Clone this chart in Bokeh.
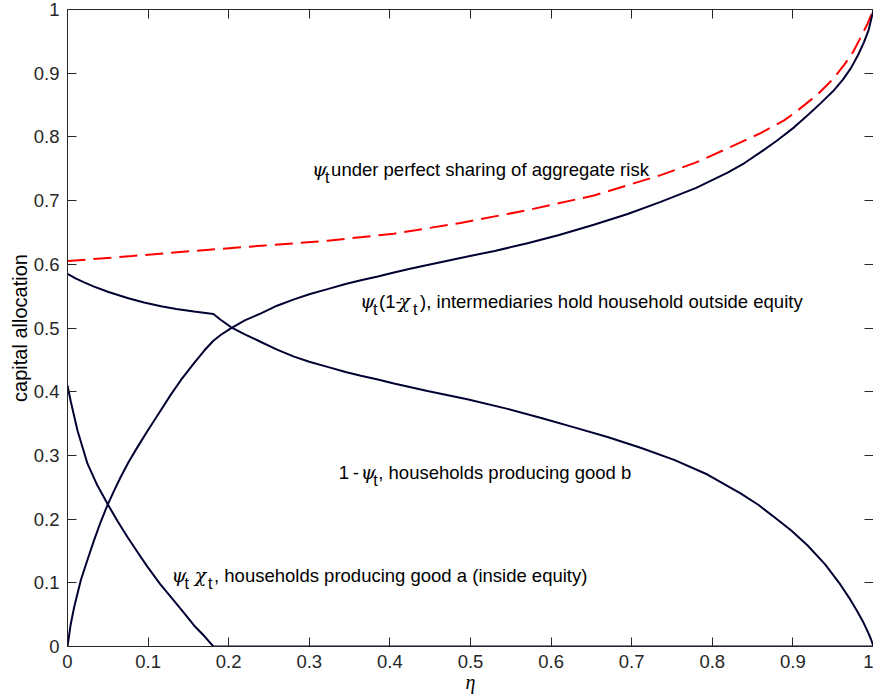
from bokeh.plotting import figure
from bokeh.models import FixedTicker, LinearAxis, Range1d, Label, CustomJSTickFormatter
from bokeh.embed import file_html
from bokeh.resources import INLINE

# ---------------- data ----------------
# psi_t (1 - chi_t): intermediaries hold household outside equity
eta_outside = [0.0, 0.004, 0.0083, 0.0165, 0.025, 0.033, 0.041, 0.0496, 0.058, 0.066, 0.076,
               0.0868, 0.10, 0.1158, 0.128, 0.1406, 0.157, 0.17, 0.181,
               0.19, 0.2026, 0.22, 0.24, 0.26, 0.281, 0.30, 0.3226, 0.345, 0.364, 0.385, 0.405,
               0.425, 0.4467, 0.4876, 0.53, 0.5707, 0.61, 0.653, 0.695, 0.736, 0.78, 0.819,
               0.840, 0.860, 0.88, 0.9015, 0.92, 0.9346, 0.95, 0.962, 0.972, 0.981, 0.988,
               0.994, 1.0]
psi_outside = [0.0, 0.035, 0.062, 0.104, 0.137, 0.167, 0.195, 0.222, 0.245, 0.266, 0.290,
               0.313, 0.340, 0.371, 0.395, 0.418, 0.445, 0.465, 0.480,
               0.489, 0.4995, 0.512, 0.523, 0.535, 0.545, 0.553, 0.561, 0.569, 0.575, 0.581, 0.587,
               0.593, 0.599, 0.610, 0.621, 0.633, 0.646, 0.662, 0.679, 0.698, 0.720, 0.744,
               0.759, 0.776, 0.794, 0.815, 0.836, 0.853, 0.872, 0.890, 0.908, 0.929, 0.948,
               0.968, 1.0]

# 1 - psi_t: households producing good b
eta_goodb = [0.0, 0.01, 0.02, 0.033, 0.05, 0.0744, 0.095, 0.116, 0.135, 0.157, 0.181,
             0.19, 0.2026, 0.22, 0.24, 0.26, 0.281, 0.30, 0.3226, 0.345, 0.364, 0.385, 0.405,
             0.4467, 0.496, 0.546, 0.59, 0.6286, 0.67, 0.711, 0.7527, 0.794, 0.835, 0.857,
             0.8767, 0.898, 0.918, 0.94, 0.959, 0.970, 0.980, 0.987, 0.9926, 0.997, 1.0]
one_minus_psi = [0.585, 0.578, 0.572, 0.565, 0.557, 0.547, 0.540, 0.534, 0.530, 0.526, 0.522,
                 0.513, 0.5015, 0.490, 0.478, 0.466, 0.455, 0.447, 0.439, 0.431, 0.425, 0.419, 0.413,
                 0.401, 0.388, 0.373, 0.358, 0.344, 0.329, 0.312, 0.293, 0.270, 0.2405, 0.2225,
                 0.2034, 0.182, 0.159, 0.129, 0.097, 0.076, 0.055, 0.039, 0.024, 0.011, 0.0]

# psi_t chi_t: households producing good a (inside equity)
eta_inside = [0.0, 0.004, 0.0124, 0.0248, 0.037, 0.0496, 0.062, 0.0744, 0.087, 0.0993, 0.115,
              0.132, 0.145, 0.157, 0.17, 0.181, 1.0]
psi_chi = [0.41, 0.385, 0.339, 0.287, 0.253, 0.224, 0.197, 0.172, 0.148, 0.125, 0.098,
           0.072, 0.052, 0.033, 0.016, 0.0, 0.0]

# psi_t under perfect sharing of aggregate risk
eta_perfect = [0.0, 0.08, 0.157, 0.24, 0.3226, 0.405, 0.4876, 0.5707, 0.653, 0.736, 0.78, 0.819,
               0.860, 0.889, 0.9015, 0.930, 0.95, 0.9636, 0.975, 0.984, 0.992, 1.0]
psi_perfect = [0.605, 0.613, 0.621, 0.629, 0.637, 0.648, 0.665, 0.685, 0.708, 0.740, 0.760, 0.782,
               0.806, 0.826, 0.837, 0.866, 0.891, 0.913, 0.934, 0.956, 0.976, 1.0]

x_ticks = [0.0, 0.1, 0.2, 0.3, 0.4, 0.5, 0.6, 0.7, 0.8, 0.9, 1.0]
x_tick_labels = ["0", "0.1", "0.2", "0.3", "0.4", "0.5", "0.6", "0.7", "0.8", "0.9", "1"]
y_ticks = [0.0, 0.1, 0.2, 0.3, 0.4, 0.5, 0.6, 0.7, 0.8, 0.9, 1.0]
y_tick_labels = ["0", "0.1", "0.2", "0.3", "0.4", "0.5", "0.6", "0.7", "0.8", "0.9", "1"]

x_label = "η"
y_label = "capital allocation"

# ---------------- styling ----------------
LINE = "#000033"
RED = "#ff0000"
AXIS = "#262626"
SANS = "Liberation Sans"
GREEK = "DejaVu Serif"
FS = "18.5px"

p = figure(width=873, height=696, x_range=Range1d(0, 1), y_range=Range1d(0, 1),
           output_backend="svg", toolbar_location=None,
           min_border_left=67, min_border_right=0, min_border_top=9, min_border_bottom=50,
           x_axis_location=None, y_axis_location=None)
p.xgrid.visible = False
p.ygrid.visible = False
p.outline_line_color = None
p.background_fill_color = "white"
p.border_fill_color = "white"


def style_axis(ax, ticks, labels, show_labels):
    ax.ticker = FixedTicker(ticks=ticks)
    ax.axis_line_color = AXIS
    ax.axis_line_width = 1
    ax.major_tick_line_color = AXIS
    ax.major_tick_in = 9
    ax.major_tick_out = 0
    ax.minor_tick_line_color = None
    ax.major_label_text_font = SANS
    ax.major_label_text_color = AXIS
    if show_labels:
        ax.major_label_overrides = {t: l for t, l in zip(ticks, labels)}
        ax.major_label_text_font_size = FS
    else:
        ax.major_label_text_font_size = "0px"
        ax.major_label_standoff = 0
        ax.formatter = CustomJSTickFormatter(code="return ''")


xb = LinearAxis(axis_label=x_label)
style_axis(xb, x_ticks, x_tick_labels, True)
xb.major_label_standoff = 8
xb.axis_label_text_font = "Liberation Serif"
xb.axis_label_text_font_style = "italic"
xb.axis_label_text_font_size = "20px"
xb.axis_label_text_color = "#000000"
xb.axis_label_standoff = 0
p.add_layout(xb, "below")

yl = LinearAxis(axis_label=y_label)
style_axis(yl, y_ticks, y_tick_labels, True)
yl.major_label_standoff = 8
yl.axis_label_text_font = SANS
yl.axis_label_text_font_style = "normal"
yl.axis_label_text_font_size = "20px"
yl.axis_label_text_color = "#000000"
yl.axis_label_standoff = 0
p.add_layout(yl, "left")

xt = LinearAxis()
style_axis(xt, x_ticks, x_tick_labels, False)
p.add_layout(xt, "above")

yr = LinearAxis()
style_axis(yr, y_ticks, y_tick_labels, False)
p.add_layout(yr, "right")

# ---------------- curves ----------------
p.line(eta_perfect, psi_perfect, line_color=RED, line_width=2, line_dash="18 8")
p.line(eta_inside, psi_chi, line_color=LINE, line_width=2)
p.line(eta_goodb, one_minus_psi, line_color=LINE, line_width=2)
p.line(eta_outside, psi_outside, line_color=LINE, line_width=2)


# ---------------- annotations (rich text as runs) ----------------
def runs(x, y, parts):
    for text, dx, dy, kind in parts:
        if kind == "greek":
            font, style, size = GREEK, "italic", "19px"
        elif kind == "sub":
            font, style, size = SANS, "normal", "16px"
        else:
            font, style, size = SANS, "normal", FS
        p.add_layout(Label(x=x, y=y, x_offset=dx, y_offset=dy, text=text,
                           text_font=font, text_font_style=style, text_font_size=size,
                           text_color="#000000", text_baseline="alphabetic",
                           text_align="left"))


runs(0.3035, 0.749, [("ψ", 0, 0, "greek"), ("t", 13, -8, "sub"),
                     (" under perfect sharing of aggregate risk", 19, 0, "text")])
runs(0.363, 0.5423, [("ψ", 0, 0, "greek"), ("t", 13, -8.5, "sub"), ("(1-", 19, 0, "text"),
                     ("χ", 38.5, 0, "greek"), ("t", 53, -8.5, "sub"),
                     ("), intermediaries hold household outside equity", 60, 0, "text")])
runs(0.3366, 0.2733, [("1", 0, 0, "text"), ("-", 14, 0, "text"), ("ψ", 22, 0, "greek"),
                      ("t", 34.5, -8, "sub"),
                      (", households producing good b", 39.5, 0, "text")])
runs(0.1291, 0.1115, [("ψ", 0, 0, "greek"), ("t", 13, -8, "sub"), ("χ", 23.3, 0, "greek"),
                      ("t", 36.5, -8, "sub"),
                      (", households producing good a (inside equity)", 42.5, 0, "text")])

open("out.html", "w").write(file_html(p, INLINE))
